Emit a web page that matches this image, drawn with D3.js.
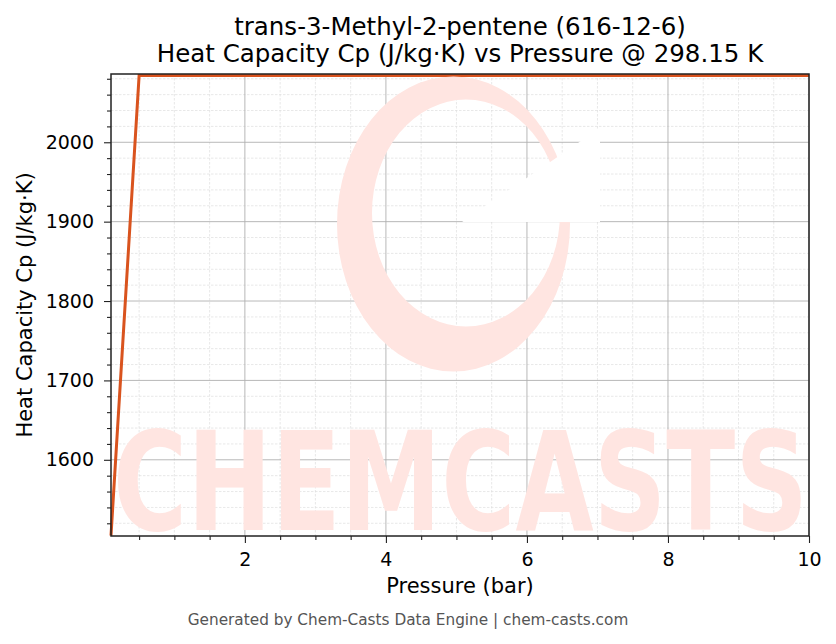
<!DOCTYPE html>
<html>
<head>
<meta charset="utf-8">
<script src="https://cdn.jsdelivr.net/npm/d3@7"></script>
<style>
body { margin:0; background:#fff; }
text { font-family: "DejaVu Sans", sans-serif; }
</style>
</head>
<body>
<script>
// data
var pressure = [0.101325, 0.5, 1, 2, 3, 4, 5, 6, 7, 8, 9, 10];
var cp = [1504.5, 2084, 2084, 2084, 2084, 2084, 2084, 2084, 2084, 2084, 2084, 2084];
var xTicks = [2, 4, 6, 8, 10];
var yTicks = [1600, 1700, 1800, 1900, 2000];
var yDomain = [1504, 2086];
var titleLines = ["trans-3-Methyl-2-pentene (616-12-6)", "Heat Capacity Cp (J/kg·K) vs Pressure @ 298.15 K"];

var svgWidth = 836, svgHeight = 644;
var margin = {top:74, right:27, bottom:108, left:111};
var width = svgWidth - margin.left - margin.right;
var height = svgHeight - margin.top - margin.bottom;

var svg = d3.select("body").append("svg").attr("width", svgWidth).attr("height", svgHeight);
var chart = svg.append("g").attr("transform", `translate(${margin.left}, ${margin.top})`);

var x = d3.scaleLinear().domain([pressure[0], 10]).range([0, width]);
var y = d3.scaleLinear().domain(yDomain).range([height, 0]);

// watermark
var wm = svg.append("g").attr("fill", "#ffe5e1");
wm.append("path").attr("fill-rule", "evenodd")
  .attr("d", "M570,224 A116.5,147.5 0 1,1 337,224 A116.5,147.5 0 1,1 570,224 Z " +
             "M560,213 A94,113.5 0 1,0 372,213 A94,113.5 0 1,0 560,213 Z");
wm.append("path").attr("fill", "#fff").attr("d", "M462,222 L600,128 L600,222 Z");
wm.append("text").attr("x", 113).attr("y", 530).attr("font-size", 138).attr("font-weight", "bold")
  .attr("textLength", 695).attr("lengthAdjust", "spacingAndGlyphs").text("CHEMCASTS");

// grid
var xMinor = d3.range(0.5, 10.01, 0.5).filter(d => d % 2 != 0);
var yMinor = d3.range(1520, 2086, 20).filter(d => d % 100 != 0);
chart.append("g").selectAll("line").data(xMinor).enter().append("line")
  .attr("x1", d => x(d)).attr("x2", d => x(d)).attr("y1", 0).attr("y2", height)
  .attr("stroke", "#dedede").attr("stroke-width", 0.7).attr("stroke-dasharray", "2.5,1.5");
chart.append("g").selectAll("line").data(yMinor).enter().append("line")
  .attr("y1", d => y(d)).attr("y2", d => y(d)).attr("x1", 0).attr("x2", width)
  .attr("stroke", "#dedede").attr("stroke-width", 0.7).attr("stroke-dasharray", "2.5,1.5");
chart.append("g").selectAll("line").data(xTicks).enter().append("line")
  .attr("x1", d => x(d)).attr("x2", d => x(d)).attr("y1", 0).attr("y2", height)
  .attr("stroke", "#b0b0b0").attr("stroke-width", 0.9);
chart.append("g").selectAll("line").data(yTicks).enter().append("line")
  .attr("y1", d => y(d)).attr("y2", d => y(d)).attr("x1", 0).attr("x2", width)
  .attr("stroke", "#b0b0b0").attr("stroke-width", 0.9);

// line
var pts = pressure.map((p, i) => [p, cp[i]]);
chart.append("path").datum(pts)
  .attr("d", d3.line().x(d => x(d[0])).y(d => y(d[1])))
  .attr("fill", "none").attr("stroke", "#d9531e").attr("stroke-width", 3);

// axes
chart.append("g").attr("transform", `translate(0, ${height})`)
  .call(d3.axisBottom(x).tickValues(xTicks).tickSize(7).tickPadding(10).tickFormat(d3.format("d")));
chart.append("g").attr("class", "minor").attr("transform", `translate(0, ${height})`)
  .call(d3.axisBottom(x).tickValues(xMinor).tickSize(4).tickFormat(""));
chart.append("g")
  .call(d3.axisLeft(y).tickValues(yTicks).tickSize(7).tickPadding(10).tickFormat(d3.format("d")));
chart.append("g").attr("class", "minor").call(d3.axisLeft(y).tickValues(yMinor).tickSize(4).tickFormat(""));
chart.selectAll(".minor text").remove();
chart.selectAll(".domain").remove();
chart.selectAll(".tick line").attr("stroke", "#222").attr("stroke-width", 1.1);
chart.selectAll(".tick text").attr("font-size", 19).attr("fill", "#000")
  .style("font-family", "DejaVu Sans");

chart.append("rect").attr("width", width).attr("height", height)
  .attr("fill", "none").attr("stroke", "#222").attr("stroke-width", 1.5);

// labels
svg.append("text").attr("x", 460).attr("y", 593).attr("text-anchor", "middle")
  .attr("font-size", 21).text("Pressure (bar)");
svg.append("text").attr("transform", "translate(32, 305) rotate(-90)").attr("text-anchor", "middle")
  .attr("font-size", 21).text("Heat Capacity Cp (J/kg·K)");
svg.selectAll(".title").data(titleLines).enter().append("text").attr("class", "title")
  .attr("x", 460).attr("y", (d, i) => 35 + i * 27).attr("text-anchor", "middle")
  .attr("font-size", 24.5).text(d => d);
svg.append("text").attr("x", 408).attr("y", 625).attr("text-anchor", "middle")
  .attr("font-size", 15.3).attr("fill", "#555").text("Generated by Chem-Casts Data Engine | chem-casts.com");
</script>
</body>
</html>
